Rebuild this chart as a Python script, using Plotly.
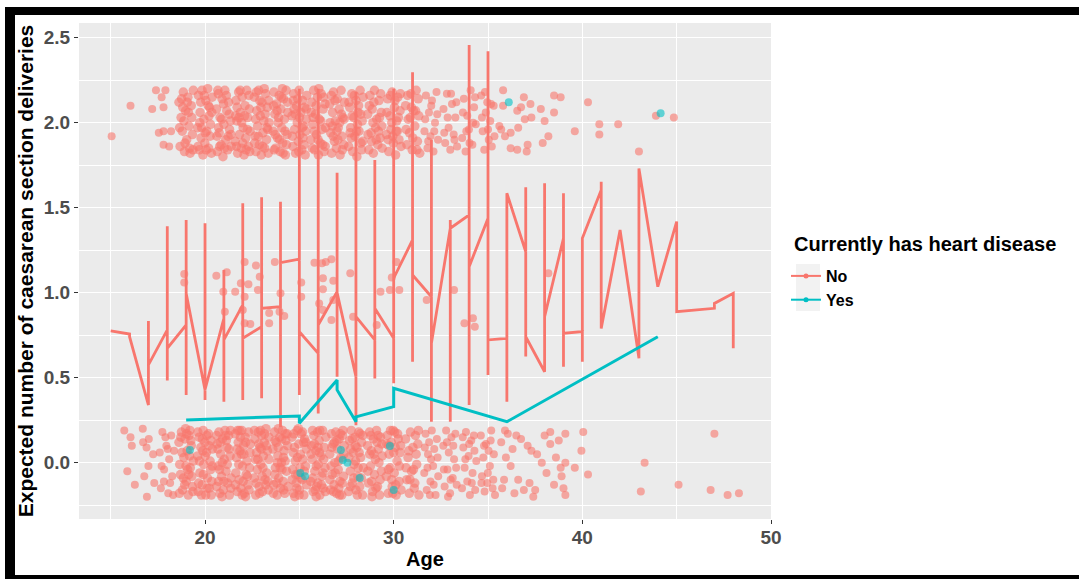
import plotly.graph_objects as go

RED = "#F8766D"
CYAN = "#00BFC4"
FONT = "Liberation Sans"

# ---------------- data ----------------
x_ticks = [20, 30, 40, 50]
y_ticks = [0.0, 0.5, 1.0, 1.5, 2.0, 2.5]
y_tick_text = ["0.0", "0.5", "1.0", "1.5", "2.0", "2.5"]
legend_title = "Currently has heart disease"

# fitted line, group "No": ages and the successive fitted values at each age
no_line_ages = [15, 16, 17, 18, 19, 20, 21, 22, 23, 24, 25, 26, 27, 28, 29, 30, 31,
                32, 33, 34, 35, 36, 37, 38, 39, 40, 41, 42, 43, 44, 45, 47, 48]
no_line_vals = [
    [0.776], [0.757, 0.741], [0.339, 0.834, 0.575], [0.781, 1.391, 0.483, 0.673],
    [0.81, 1.428, 0.398, 0.996], [0.428, 1.408, 0.369, 0.43], [0.849, 1.134, 0.359, 0.722],
    [0.928, 1.526, 0.369, 0.732], [0.80, 1.561, 0.379, 0.908], [0.918, 1.535, 0.21, 1.176],
    [1.198, 2.20, 0.398, 0.77], [0.643, 2.20, 0.29, 0.81], [1.006, 1.706, 0.506, 1.0],
    [0.506, 2.18, 0.22, 0.859], [0.722, 1.78, 0.496, 0.908], [0.732, 2.20, 0.467, 1.085],
    [1.31, 2.296, 0.594, 1.104], [0.976, 1.898, 0.241, 0.702], [1.379, 1.428, 0.241, 1.379],
    [1.457, 2.457, 0.339, 1.153], [1.437, 2.42, 0.516, 0.722], [0.732, 0.359, 1.585],
    [1.241, 1.62, 0.624, 0.741], [0.535, 1.643, 0.859], [1.32, 1.585, 0.565, 0.761],
    [0.771, 0.594, 1.32], [1.604, 1.653, 0.79], [1.369], [0.624, 0.614, 1.73], [1.035],
    [1.418, 0.888], [0.908, 0.937], [0.996, 0.673],
]

# fitted line, group "Yes"
yes_line_ages = [19, 25, 27, 28, 30, 36, 44]
yes_line_vals = [[0.251], [0.275, 0.232], [0.487, 0.428], [0.241, 0.27], [0.33, 0.438],
                 [0.241], [0.741]]

# jittered observations, group "No", outcome 0
no_obs_0 = [
    (15.72, 0.19), (16.05, 0.15), (15.88, -0.05), (16.12, 0.10), (16.28, -0.13),
    (16.70, 0.20), (16.72, 0.12), (16.90, 0.09), (17.02, 0.14), (17.00, -0.02), (16.92, -0.20),
    (17.25, 0.05), (17.31, -0.12), (16.78, -0.08),
    (17.60, 0.06), (17.66, -0.15), (17.74, 0.18), (17.83, -0.04), (17.95, 0.10), (18.05, -0.18),
    (18.10, 0.02), (18.21, 0.16), (18.26, -0.08), (18.36, 0.07), (18.31, -0.19), (17.70, -0.02),
    (18.15, -0.12), (17.90, 0.15), (18.02, 0.08), (17.82, -0.11),
    (18.62, 0.12), (18.70, -0.07), (18.75, 0.18), (18.81, -0.16), (18.88, 0.03), (18.94, 0.14),
    (19.00, -0.11), (19.05, 0.07), (19.11, -0.19), (19.16, 0.16), (19.22, -0.03), (19.27, 0.10),
    (19.33, -0.14), (19.38, 0.01), (18.66, -0.01), (18.85, -0.09), (19.08, -0.04), (19.20, 0.19),
    (18.97, 0.20), (19.30, -0.08),
    (18.64, -0.18), (18.78, 0.06), (18.92, -0.13), (19.02, 0.17), (19.14, -0.07), (19.25, 0.13),
    (19.36, -0.17), (18.72, 0.15), (19.18, 0.04), (18.99, -0.02),
    (19.61, 0.04), (19.64, -0.17), (19.69, 0.15), (19.73, -0.06), (19.78, 0.09), (19.84, -0.13),
    (19.90, 0.19), (19.93, -0.01), (19.99, 0.12), (20.04, -0.19), (20.08, 0.06), (20.13, -0.09),
    (20.18, 0.17), (20.23, -0.15), (20.27, 0.01), (20.32, 0.13), (20.36, -0.11), (20.39, 0.08),
    (19.66, -0.12), (19.88, 0.07), (20.10, 0.16), (20.30, -0.04),
    (19.62, 0.18), (19.71, 0.01), (19.81, -0.19), (19.91, -0.07), (20.01, 0.04), (20.11, -0.15),
    (20.21, 0.10), (20.33, -0.19), (20.38, -0.02), (19.86, 0.14),
    (20.61, -0.14), (20.65, 0.11), (20.70, -0.02), (20.74, 0.18), (20.79, -0.18), (20.83, 0.05),
    (20.88, -0.08), (20.93, 0.14), (20.97, -0.16), (21.02, 0.02), (21.06, 0.19), (21.11, -0.05),
    (21.16, 0.09), (21.20, -0.12), (21.25, 0.16), (21.29, -0.19), (21.33, 0.04), (21.38, -0.09),
    (20.68, 0.08), (20.90, -0.20), (21.13, 0.13), (21.35, 0.19),
    (20.62, 0.16), (20.72, -0.11), (20.81, 0.12), (20.91, 0.00), (21.00, -0.11), (21.09, 0.16),
    (21.18, -0.01), (21.27, 0.08), (21.37, -0.15), (20.77, -0.04),
    (21.60, 0.17), (21.63, -0.06), (21.67, 0.03), (21.71, -0.17), (21.76, 0.12), (21.81, -0.10),
    (21.85, 0.07), (21.90, -0.15), (21.95, 0.19), (21.99, -0.02), (22.04, 0.10), (22.08, -0.18),
    (22.13, 0.15), (22.18, -0.07), (22.22, 0.01), (22.27, -0.13), (22.31, 0.18), (22.36, -0.03),
    (22.40, 0.11), (21.73, 0.19), (21.93, 0.05), (22.15, -0.20), (22.33, -0.16), (22.02, -0.11),
    (21.61, -0.13), (21.70, 0.08), (21.79, -0.01), (21.88, 0.15), (21.97, -0.19), (22.06, 0.05),
    (22.16, 0.12), (22.25, -0.08), (22.38, 0.06), (21.83, 0.19),
    (22.61, -0.09), (22.64, 0.14), (22.69, -0.19), (22.73, 0.06), (22.77, -0.04), (22.82, 0.18),
    (22.87, -0.14), (22.91, 0.09), (22.96, -0.01), (23.00, 0.16), (23.05, -0.17), (23.09, 0.04),
    (23.14, 0.12), (23.18, -0.10), (23.23, 0.20), (23.27, -0.06), (23.31, 0.07), (23.36, -0.16),
    (23.39, 0.02), (22.67, 0.02), (22.85, 0.11), (23.03, -0.08), (23.21, -0.13), (22.94, 0.19),
    (22.62, 0.19), (22.72, -0.12), (22.80, 0.02), (22.89, -0.18), (22.98, 0.08), (23.07, -0.03),
    (23.16, 0.17), (23.25, 0.10), (23.34, -0.11), (23.38, 0.15),
    (23.60, 0.08), (23.64, -0.13), (23.68, 0.18), (23.73, -0.03), (23.78, 0.12), (23.82, -0.19),
    (23.86, 0.04), (23.91, -0.09), (23.96, 0.15), (24.00, -0.15), (24.05, 0.00), (24.10, 0.19),
    (24.14, -0.11), (24.19, 0.07), (24.23, -0.18), (24.28, 0.13), (24.32, -0.05), (24.37, 0.10),
    (24.40, -0.14), (23.70, -0.07), (23.89, 0.20), (24.08, -0.04), (24.26, 0.17), (24.16, 0.03),
    (23.62, -0.18), (23.71, 0.13), (23.80, -0.12), (23.88, 0.09), (23.98, -0.03), (24.07, 0.14),
    (24.17, -0.16), (24.25, 0.01), (24.35, 0.17), (23.84, 0.00),
    (24.61, 0.15), (24.65, -0.04), (24.69, -0.18), (24.74, 0.09), (24.78, 0.01), (24.83, -0.12),
    (24.88, 0.19), (24.92, -0.07), (24.97, 0.11), (25.01, -0.16), (25.06, 0.05), (25.10, 0.17),
    (25.15, -0.10), (25.19, 0.02), (25.24, -0.19), (25.28, 0.14), (25.33, -0.02), (25.37, 0.08),
    (24.67, 0.06), (24.86, -0.15), (25.04, -0.03), (25.22, 0.12), (25.39, -0.13), (24.95, 0.20),
    (24.62, -0.10), (24.71, 0.17), (24.80, -0.07), (24.90, 0.03), (24.99, -0.19), (25.08, -0.09),
    (25.17, 0.18), (25.26, -0.05), (25.35, 0.12), (24.76, -0.20),
    (25.60, -0.11), (25.64, 0.10), (25.68, 0.02), (25.73, -0.17), (25.77, 0.16), (25.82, -0.05),
    (25.87, 0.07), (25.91, -0.14), (25.96, 0.18), (26.00, -0.01), (26.05, 0.13), (26.09, -0.19),
    (26.14, 0.04), (26.19, -0.08), (26.23, 0.19), (26.27, -0.15), (26.32, 0.09), (26.36, -0.03),
    (26.40, 0.15), (25.70, 0.19), (25.89, -0.20), (26.07, 0.06), (26.25, -0.06), (25.98, -0.12),
    (25.62, 0.05), (25.71, -0.09), (25.80, 0.11), (25.90, -0.02), (25.99, 0.09), (26.08, 0.19),
    (26.17, -0.13), (26.29, 0.02), (26.38, -0.17), (25.84, -0.16),
    (26.61, 0.05), (26.65, -0.16), (26.70, 0.17), (26.74, -0.07), (26.79, 0.11), (26.84, -0.13),
    (26.88, 0.00), (26.93, 0.18), (26.97, -0.18), (27.02, 0.08), (27.06, -0.04), (27.11, 0.14),
    (27.15, -0.11), (27.20, 0.03), (27.25, -0.19), (27.29, 0.16), (27.34, -0.08), (27.38, 0.10),
    (26.68, -0.02), (26.86, 0.12), (27.09, -0.15), (27.31, 0.19),
    (26.62, -0.10), (26.72, 0.09), (26.81, -0.17), (26.90, -0.06), (26.99, 0.13), (27.08, 0.01),
    (27.17, 0.17), (27.27, -0.12), (27.36, 0.05), (27.13, -0.19),
    (27.61, -0.17), (27.66, 0.13), (27.70, -0.05), (27.75, 0.19), (27.80, -0.12), (27.85, 0.06),
    (27.90, -0.01), (27.95, 0.15), (28.00, -0.16), (28.05, 0.09), (28.10, -0.08), (28.15, 0.18),
    (28.20, -0.14), (28.25, 0.03), (28.30, 0.12), (28.35, -0.19), (28.39, -0.03), (27.72, 0.08),
    (27.98, 0.01), (28.22, 0.17),
    (27.62, 0.03), (27.71, -0.14), (27.81, 0.14), (27.88, -0.09), (27.97, 0.10), (28.07, -0.19),
    (28.17, 0.06), (28.28, -0.09), (28.37, 0.16), (28.12, -0.03),
    (28.62, 0.10), (28.67, -0.12), (28.72, 0.18), (28.77, -0.02), (28.82, 0.07), (28.88, -0.17),
    (28.93, 0.14), (28.98, -0.07), (29.03, 0.02), (29.09, 0.19), (29.14, -0.14), (29.19, 0.08),
    (29.25, -0.19), (29.30, 0.15), (29.35, -0.05), (29.39, 0.04), (28.85, -0.20), (29.12, 0.12),
    (28.63, -0.05), (28.73, 0.05), (28.83, -0.11), (28.95, 0.05), (29.06, -0.15), (29.17, 0.16),
    (29.28, -0.10), (29.37, 0.11), (28.79, 0.16), (29.22, 0.00),
    (29.61, -0.08), (29.66, 0.16), (29.71, -0.18), (29.76, 0.05), (29.81, -0.03), (29.87, 0.12),
    (29.92, -0.14), (29.97, 0.19), (30.03, -0.06), (30.08, 0.09), (30.13, -0.19), (30.18, 0.01),
    (30.24, 0.14), (30.29, -0.11), (30.34, 0.06), (30.39, -0.16), (29.74, 0.10), (30.05, 0.18),
    (29.63, 0.11), (29.72, -0.04), (29.83, 0.19), (29.90, -0.10), (30.00, 0.06), (30.11, -0.13),
    (30.21, 0.17), (30.31, -0.02), (30.37, 0.10), (29.95, -0.18),
    (30.63, 0.14), (30.70, -0.10), (30.76, 0.03), (30.83, -0.18), (30.89, 0.18), (30.95, -0.05),
    (31.02, 0.09), (31.09, -0.15), (31.15, 0.16), (31.22, -0.01), (31.28, 0.11), (31.34, -0.19),
    (30.80, 0.07), (31.12, -0.12),
    (30.66, -0.03), (30.86, -0.10), (31.05, -0.04), (31.19, 0.05), (31.31, 0.19),
    (31.62, -0.06), (31.69, 0.17), (31.75, -0.16), (31.82, 0.05), (31.88, 0.12), (31.95, -0.11),
    (32.02, 0.19), (32.09, -0.02), (32.15, 0.08), (32.22, -0.19), (32.29, 0.14), (32.36, -0.08),
    (31.98, 0.02),
    (31.65, 0.09), (31.79, -0.03), (31.92, -0.19), (32.12, -0.13), (32.33, 0.03),
    (32.63, 0.10), (32.70, -0.14), (32.78, 0.19), (32.85, -0.04), (32.92, 0.06), (32.99, -0.18),
    (33.06, 0.15), (33.13, -0.09), (33.20, 0.02), (33.27, 0.17), (33.34, -0.13), (32.88, -0.20),
    (32.66, -0.04), (32.82, 0.12), (33.02, -0.10), (33.16, 0.10), (33.31, -0.03),
    (33.62, -0.15), (33.69, 0.09), (33.76, -0.03), (33.83, 0.18), (33.90, -0.11), (33.97, 0.04),
    (34.04, -0.19), (34.11, 0.13), (34.18, -0.06), (34.25, 0.16), (34.32, -0.16), (34.38, 0.01),
    (33.66, 0.15), (33.80, 0.02), (34.00, 0.11), (34.14, -0.12), (34.28, 0.07),
    (34.62, 0.16), (34.68, -0.08), (34.75, 0.03), (34.82, -0.17), (34.89, 0.11), (34.96, -0.12),
    (35.03, 0.07), (35.10, -0.02), (35.17, 0.19), (35.24, -0.15), (35.31, 0.05), (35.37, -0.19),
    (34.65, -0.12), (34.79, 0.10), (34.99, -0.06), (35.14, 0.13), (35.28, -0.10),
    (35.70, 0.12), (35.85, -0.10), (36.05, 0.17), (36.20, -0.02), (36.40, -0.18), (36.60, -0.10),
    (36.90, -0.16), (35.95, 0.03), (37.10, 0.10), (37.30, 0.07), (37.40, -0.20), (37.85, 0.00),
    (36.75, 0.14), (38.10, -0.06), (38.30, 0.11), (38.30, 0.18), (38.75, 0.13), (38.85, -0.03),
    (38.90, -0.08), (39.00, -0.15), (39.10, -0.19), (39.10, 0.00), (39.10, 0.17), (39.60, -0.03),
    (39.95, 0.07), (40.05, 0.18), (40.30, -0.07), (43.10, -0.17), (43.30, 0.00), (45.10, -0.13),
    (46.80, -0.16), (47.00, 0.17), (47.70, -0.19), (48.30, -0.18),
    (35.75, -0.15), (35.90, 0.19), (36.30, 0.08), (36.50, 0.16), (37.20, -0.12), (37.60, 0.05),
    (37.50, -0.16), (38.00, 0.16), (38.50, -0.13), (38.60, 0.03),
]

# jittered observations, group "No", outcome 1
no_obs_1 = [
    (18.90, 1.11), (18.90, 1.06), (20.60, 1.10), (21.15, 1.12), (20.97, 1.006), (21.60, 1.006),
    (21.05, 0.888), (22.10, 1.18), (22.70, 1.16), (21.90, 1.055), (22.30, 1.05), (22.10, 0.976),
    (22.00, 0.898), (22.10, 0.82), (22.40, 0.816), (22.90, 1.094), (22.80, 1.016), (23.40, 0.82),
    (23.40, 0.88), (23.70, 1.18), (24.00, 0.996), (23.95, 0.888), (24.20, 0.863), (25.10, 1.06),
    (25.10, 0.976), (25.80, 1.176), (26.20, 1.173), (26.40, 1.18), (26.70, 1.196), (26.25, 1.085),
    (26.80, 1.07), (26.25, 1.02), (26.05, 0.937), (26.25, 0.898), (26.70, 0.84), (26.80, 0.957),
    (27.70, 1.114), (27.85, 0.859), (29.30, 1.006), (29.10, 0.81), (30.15, 1.18), (29.90, 1.09),
    (29.80, 1.016), (30.30, 1.016), (31.75, 0.957), (33.20, 1.016), (33.75, 0.82), (34.20, 0.85),
    (34.30, 0.80), (38.20, 1.114),
]

# jittered observations, group "No", outcome 2
no_obs_2 = [
    (15.05, 1.92), (16.05, 2.10), (17.40, 2.19), (17.90, 2.19), (17.70, 2.15), (17.20, 2.08),
    (17.80, 2.09), (17.80, 1.95), (18.20, 1.95), (17.80, 1.87), (18.10, 1.86), (17.55, 1.94),
    (18.62, 2.12), (18.68, 1.86), (18.73, 2.03), (18.79, 1.95), (18.85, 2.18), (18.91, 1.83),
    (18.97, 2.07), (19.03, 1.90), (19.09, 2.15), (19.15, 1.98), (19.21, 1.82), (19.27, 2.10),
    (19.33, 1.93), (19.38, 2.19), (18.88, 2.01), (19.12, 2.06),
    (18.65, 1.97), (18.76, 2.14), (18.94, 1.88), (19.06, 2.12), (19.18, 1.85), (19.30, 2.03),
    (19.36, 1.84), (18.82, 2.09),
    (19.61, 1.97), (19.65, 2.16), (19.70, 1.84), (19.74, 2.06), (19.79, 1.91), (19.84, 2.19),
    (19.89, 1.81), (19.94, 2.02), (19.99, 1.88), (20.04, 2.13), (20.09, 1.95), (20.14, 2.20),
    (20.19, 1.85), (20.24, 2.09), (20.29, 1.99), (20.34, 1.82), (20.38, 2.15), (19.77, 2.12),
    (20.01, 1.94), (20.21, 2.04),
    (19.63, 1.86), (19.72, 2.00), (19.82, 1.97), (19.96, 2.16), (20.06, 1.84), (20.17, 2.10),
    (20.27, 1.92), (20.36, 2.06),
    (20.61, 2.08), (20.65, 1.83), (20.70, 2.17), (20.75, 1.94), (20.80, 2.03), (20.85, 1.87),
    (20.90, 2.14), (20.95, 1.80), (21.00, 1.99), (21.05, 2.19), (21.10, 1.90), (21.15, 2.07),
    (21.20, 1.84), (21.25, 2.12), (21.30, 1.96), (21.35, 2.01), (21.39, 1.86), (20.72, 1.97),
    (20.98, 2.11), (21.22, 1.92),
    (20.63, 1.92), (20.68, 2.19), (20.78, 1.86), (20.88, 2.02), (21.03, 1.85), (21.13, 2.16),
    (21.28, 2.05), (21.37, 1.93),
    (21.60, 1.89), (21.64, 2.13), (21.69, 2.01), (21.73, 1.82), (21.78, 2.18), (21.83, 1.93),
    (21.88, 2.06), (21.92, 1.85), (21.97, 2.15), (22.02, 1.97), (22.07, 1.81), (22.12, 2.10),
    (22.16, 1.91), (22.21, 2.19), (22.26, 2.03), (22.30, 1.86), (22.35, 2.08), (22.39, 1.95),
    (21.70, 2.09), (21.94, 2.00), (22.18, 1.84), (22.33, 2.16),
    (21.62, 2.04), (21.67, 1.86), (21.80, 2.03), (21.86, 2.19), (22.00, 1.88), (22.10, 2.04),
    (22.24, 1.96), (22.37, 1.83),
    (22.61, 2.15), (22.65, 1.92), (22.70, 1.83), (22.74, 2.07), (22.79, 1.98), (22.84, 2.19),
    (22.88, 1.87), (22.93, 2.04), (22.98, 1.81), (23.02, 2.12), (23.07, 1.94), (23.12, 2.01),
    (23.16, 1.85), (23.21, 2.17), (23.26, 1.90), (23.30, 2.09), (23.35, 1.82), (23.39, 2.00),
    (22.68, 2.02), (22.90, 2.13), (23.14, 2.20), (23.33, 1.96),
    (22.63, 1.88), (22.72, 2.18), (22.82, 1.92), (22.96, 2.09), (23.05, 1.86), (23.19, 2.05),
    (23.28, 1.97), (23.37, 2.13),
    (23.61, 1.95), (23.65, 2.18), (23.70, 2.05), (23.74, 1.85), (23.79, 2.11), (23.84, 1.91),
    (23.88, 2.00), (23.93, 2.16), (23.98, 1.83), (24.02, 2.08), (24.07, 1.97), (24.12, 1.88),
    (24.16, 2.14), (24.21, 2.02), (24.26, 1.81), (24.30, 2.19), (24.35, 1.93), (24.39, 2.06),
    (23.67, 1.84), (23.90, 2.03), (24.10, 2.20), (24.32, 1.87),
    (23.63, 2.10), (23.72, 1.93), (23.82, 2.07), (23.95, 1.90), (24.05, 2.15), (24.14, 1.82),
    (24.24, 1.95), (24.37, 2.12),
    (24.61, 2.04), (24.66, 1.86), (24.70, 2.17), (24.75, 1.96), (24.80, 1.82), (24.85, 2.10),
    (24.89, 2.00), (24.94, 1.89), (24.99, 2.19), (25.03, 1.93), (25.08, 2.06), (25.13, 1.84),
    (25.17, 2.13), (25.22, 1.98), (25.27, 2.09), (25.31, 1.81), (25.36, 2.02), (25.39, 2.16),
    (24.72, 2.08), (24.97, 1.83), (25.19, 1.91), (25.34, 1.95),
    (24.63, 1.92), (24.68, 2.13), (24.78, 2.05), (24.92, 2.14), (25.01, 2.03), (25.15, 1.97),
    (25.25, 1.87), (25.37, 2.08),
    (25.61, 1.90), (25.66, 2.12), (25.71, 1.99), (25.76, 2.19), (25.81, 1.84), (25.86, 2.05),
    (25.91, 1.93), (25.96, 2.15), (26.01, 1.81), (26.06, 2.02), (26.11, 1.88), (26.16, 2.17),
    (26.21, 1.96), (26.26, 2.08), (26.31, 1.83), (26.36, 2.11), (26.39, 1.97), (25.73, 2.03),
    (26.03, 2.20), (26.24, 1.87),
    (25.63, 2.06), (25.69, 1.85), (25.79, 1.95), (25.89, 2.10), (25.99, 1.90), (26.13, 2.01),
    (26.28, 2.15), (26.37, 1.86),
    (26.61, 2.11), (26.66, 1.94), (26.71, 1.82), (26.76, 2.06), (26.81, 2.18), (26.86, 1.89),
    (26.91, 2.01), (26.96, 1.85), (27.01, 2.14), (27.06, 1.97), (27.11, 2.08), (27.16, 1.81),
    (27.21, 2.19), (27.26, 1.92), (27.31, 2.03), (27.36, 1.87), (27.39, 2.12), (26.74, 1.98),
    (27.04, 1.90), (27.23, 2.05),
    (26.63, 2.00), (26.69, 2.16), (26.79, 1.92), (26.89, 2.13), (26.99, 1.95), (27.14, 2.00),
    (27.28, 1.84), (27.37, 2.02),
    (27.61, 1.86), (27.67, 2.09), (27.72, 1.97), (27.78, 2.17), (27.83, 1.83), (27.89, 2.03),
    (27.94, 1.92), (28.00, 2.13), (28.05, 1.80), (28.11, 2.06), (28.16, 1.95), (28.22, 2.19),
    (28.27, 1.88), (28.33, 2.01), (28.38, 2.15), (27.75, 1.91), (28.08, 1.99), (28.30, 1.84),
    (27.63, 2.12), (27.69, 1.94), (27.80, 2.04), (27.92, 2.16), (28.03, 1.95), (28.14, 2.10),
    (28.25, 2.05), (28.36, 1.89),
    (28.62, 2.05), (28.68, 1.84), (28.74, 2.16), (28.80, 1.94), (28.86, 2.08), (28.92, 1.82),
    (28.98, 2.19), (29.04, 1.97), (29.10, 2.02), (29.16, 1.87), (29.22, 2.13), (29.28, 1.91),
    (29.34, 2.06), (29.39, 1.85), (28.90, 2.00), (29.19, 1.95),
    (28.64, 1.93), (28.71, 2.10), (28.83, 1.89), (28.95, 2.12), (29.07, 1.90), (29.25, 2.03),
    (29.31, 2.17), (29.37, 1.98),
    (29.62, 1.93), (29.68, 2.14), (29.74, 1.83), (29.80, 2.04), (29.86, 1.96), (29.92, 2.18),
    (29.98, 1.88), (30.04, 2.09), (30.10, 1.81), (30.16, 2.01), (30.22, 2.15), (30.28, 1.90),
    (30.34, 2.07), (30.39, 1.86), (29.90, 2.00), (30.19, 1.95),
    (29.64, 2.06), (29.71, 1.90), (29.83, 2.16), (29.95, 1.92), (30.07, 2.13), (30.13, 1.95),
    (30.25, 2.03), (30.36, 2.17),
    (30.63, 2.10), (30.70, 1.87), (30.77, 2.02), (30.84, 1.94), (30.91, 2.17), (30.98, 1.84),
    (31.05, 2.07), (31.12, 1.98), (31.19, 2.19), (31.26, 1.89), (31.33, 2.04), (31.38, 1.82),
    (30.66, 1.96), (30.74, 2.16), (30.88, 2.03), (31.01, 1.91), (31.16, 2.07), (31.23, 1.84),
    (31.30, 2.14), (30.94, 2.09),
    (31.63, 1.95), (31.71, 2.16), (31.79, 1.85), (31.87, 2.06), (31.95, 1.92), (32.03, 2.13),
    (32.11, 1.83), (32.19, 2.00), (32.27, 2.18), (32.35, 1.90),
    (31.67, 2.02), (31.83, 1.89), (31.99, 2.10), (32.15, 1.95), (32.31, 2.05),
    (32.64, 2.08), (32.73, 1.88), (32.82, 2.17), (32.91, 1.97), (33.00, 1.84), (33.09, 2.11),
    (33.18, 1.93), (33.27, 2.03), (33.36, 1.86),
    (32.68, 1.94), (32.86, 2.03), (33.04, 2.17), (33.22, 1.90), (33.32, 2.12),
    (33.63, 1.91), (33.72, 2.14), (33.81, 1.83), (33.90, 2.04), (33.99, 1.96), (34.08, 2.19),
    (34.17, 1.87), (34.26, 2.09), (34.35, 1.99),
    (33.67, 2.06), (33.85, 1.95), (34.02, 1.88), (34.21, 2.00), (34.31, 2.15),
    (34.64, 2.16), (34.72, 1.95), (34.80, 1.84), (34.88, 2.06), (34.96, 2.12), (35.04, 1.90),
    (35.12, 2.01), (35.20, 1.86), (35.30, 2.10),
    (34.68, 2.03), (34.84, 2.18), (35.00, 1.96), (35.16, 2.11), (35.34, 1.92),
    (35.80, 2.19), (35.80, 2.10), (35.60, 1.98), (35.70, 1.96), (35.90, 1.92), (36.20, 1.94),
    (36.20, 1.85), (36.55, 1.84), (37.10, 1.87), (37.05, 1.83), (36.60, 1.97), (36.55, 2.07),
    (36.75, 2.09), (36.90, 2.15), (37.25, 2.11), (36.95, 2.02), (37.30, 2.03), (37.80, 2.08),
    (38.00, 2.01), (38.20, 1.92), (37.90, 1.88), (38.50, 2.16), (38.85, 2.15), (38.50, 2.06),
    (39.60, 1.95), (40.30, 2.12), (40.90, 1.99), (40.90, 1.93), (41.90, 1.99), (43.00, 1.83),
    (43.90, 2.04), (44.85, 2.03),
]

# jittered observations, group "Yes"
yes_obs = [
    (19.20, 0.075), (25.05, -0.06), (25.30, -0.08), (27.20, 0.075), (27.30, 0.016),
    (27.55, 0.0), (28.20, -0.09), (29.80, 0.098), (30.00, -0.16), (36.10, 2.12), (44.15, 2.055),
]

# ---------------- figure ----------------
W, H = 1079, 579
L, R, T, B = 79, 771, 23, 519          # panel box in pixels
X_RANGE = [13.32, 50.0]
Y_RANGE = [-0.331, 2.586]
CORE = (18.5, 31.5)                    # crowded age band drawn with larger dots


def px_x(p):
    return (p - L) / (R - L)


def px_y(p):
    return (B - p) / (B - T)


def flatten(ages, vals):
    xs, ys = [], []
    for a, vs in zip(ages, vals):
        for v in vs:
            xs.append(a)
            ys.append(v)
    return xs, ys


fig = go.Figure()

for obs in (no_obs_0, no_obs_1, no_obs_2):
    xs = [p[0] for p in obs]
    ys = [p[1] for p in obs]
    sizes = [9.5 if (CORE[0] <= x <= CORE[1] and abs(y - round(y)) < 0.3 and round(y) != 1)
             else 8 for x, y in obs]
    fig.add_trace(go.Scatter(x=xs, y=ys, mode="markers",
                             marker=dict(color=RED, size=sizes, opacity=0.6, line=dict(width=0)),
                             showlegend=False, hoverinfo="skip"))
fig.add_trace(go.Scatter(x=[p[0] for p in yes_obs], y=[p[1] for p in yes_obs], mode="markers",
                         marker=dict(color=CYAN, size=8, opacity=0.6, line=dict(width=0)),
                         showlegend=False, hoverinfo="skip"))

nx, ny = flatten(no_line_ages, no_line_vals)
yx, yy = flatten(yes_line_ages, yes_line_vals)
fig.add_trace(go.Scatter(x=nx, y=ny, mode="lines", line=dict(color=RED, width=2.8),
                         showlegend=False, hoverinfo="skip"))
fig.add_trace(go.Scatter(x=yx, y=yy, mode="lines", line=dict(color=CYAN, width=3),
                         showlegend=False, hoverinfo="skip"))

# legend entries
for name, col in (("No", RED), ("Yes", CYAN)):
    fig.add_trace(go.Scatter(x=[None], y=[None], mode="lines+markers", name=name,
                             line=dict(color=col, width=2),
                             marker=dict(color=col, size=5)))

tick_font = dict(family=FONT, size=19, color="#4D4D4D", weight="bold")
title_font = dict(family=FONT, size=20, color="black", weight="bold")

shapes = [
    # legend key background
    dict(type="rect", xref="paper", yref="paper", x0=px_x(796), x1=px_x(820),
         y0=px_y(311), y1=px_y(264), fillcolor="#F2F2F2", line=dict(width=0), layer="below"),
    # black frame
    dict(type="rect", xref="paper", yref="paper", x0=px_x(5), x1=px_x(W + 2),
         y0=px_y(15), y1=px_y(7), fillcolor="black", line=dict(width=0)),
    dict(type="rect", xref="paper", yref="paper", x0=px_x(5), x1=px_x(15),
         y0=px_y(W), y1=px_y(7), fillcolor="black", line=dict(width=0)),
    dict(type="rect", xref="paper", yref="paper", x0=px_x(5), x1=px_x(W + 2),
         y0=px_y(H + 2), y1=px_y(575), fillcolor="black", line=dict(width=0)),
]

annotations = [
    dict(text=legend_title, xref="paper", yref="paper", x=px_x(792), y=px_y(244),
         xanchor="left", yanchor="middle", showarrow=False,
         font=dict(family=FONT, size=20, color="black", weight="bold")),
]

fig.update_layout(
    width=W, height=H,
    margin=dict(l=L, r=W - R, t=T, b=H - B, autoexpand=False),
    paper_bgcolor="white", plot_bgcolor="#EBEBEB",
    font=dict(family=FONT, color="black"),
    shapes=shapes,
    annotations=annotations,
    legend=dict(
        x=px_x(786), y=px_y(259), xanchor="left", yanchor="top",
        bgcolor="rgba(0,0,0,0)",
        font=dict(family=FONT, size=16, color="black", weight="bold"),
        itemwidth=30, traceorder="normal",
    ),
    xaxis=dict(
        range=X_RANGE, tickmode="array", tickvals=x_ticks,
        ticktext=[str(v) for v in x_ticks],
        showgrid=True, gridcolor="white", gridwidth=1.2, zeroline=False, showline=False,
        ticks="outside", ticklen=4, tickwidth=1.1, tickcolor="#333333",
        tickfont=tick_font, ticklabelstandoff=-3,
        minor=dict(dtick=5, tick0=0, showgrid=True, gridcolor="white", gridwidth=0.6,
                   ticks=""),
        title=dict(text="Age", font=title_font, standoff=5),
    ),
    yaxis=dict(
        range=Y_RANGE, tickmode="array", tickvals=y_ticks, ticktext=y_tick_text,
        showgrid=True, gridcolor="white", gridwidth=1.2, zeroline=False, showline=False,
        ticks="outside", ticklen=4, tickwidth=1.1, tickcolor="#333333",
        tickfont=tick_font,
        minor=dict(dtick=0.25, tick0=0, showgrid=True, gridcolor="white", gridwidth=0.6,
                   ticks=""),
        title=dict(text="Expected number of caesarean section deliveries",
                   font=dict(family=FONT, size=21, color="black", weight="bold"), standoff=4),
    ),
)

fig.write_html("out.html", config={"displayModeBar": False},
               post_script="document.body.style.margin='0';")
